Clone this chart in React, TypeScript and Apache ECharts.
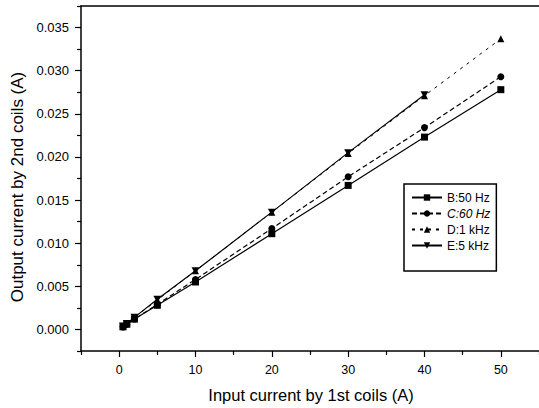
import React, { useEffect, useRef } from "react";
import * as echarts from "echarts";

const xValues = [0.5, 1, 2, 5, 10, 20, 30, 40, 50];
const seriesB = [0.0003, 0.0006, 0.0012, 0.0028, 0.0055, 0.0111, 0.0167, 0.0223, 0.0278];
const seriesC = [0.0003, 0.0006, 0.0012, 0.0029, 0.0058, 0.0117, 0.0177, 0.0234, 0.0293];
const seriesD = [0.0004, 0.0007, 0.0014, 0.0034, 0.0068, 0.0136, 0.0204, 0.0271, 0.0337];
const seriesE = [0.0004, 0.0007, 0.0014, 0.0035, 0.0068, 0.0136, 0.0205, 0.0272];

const xMajorTicks = [0, 10, 20, 30, 40, 50];
const xMinorTicks = [-5, 5, 15, 25, 35, 45, 55];
const yMajorTicks = [0, 0.005, 0.01, 0.015, 0.02, 0.025, 0.03, 0.035];
const yMinorTicks = [-0.0025, 0.0025, 0.0075, 0.0125, 0.0175, 0.0225, 0.0275, 0.0325, 0.0375];

const names = ["B:50 Hz", "C:60 Hz", "D:1 kHz", "E:5 kHz"];

const FONT = "Liberation Sans, Arial, sans-serif";

function pairs(ys: number[]) {
  return ys.map((y, i) => [xValues[i], y]);
}

export default function App() {
  const ref = useRef<HTMLDivElement>(null);
  useEffect(() => {
    if (!ref.current) return;
    const chart = echarts.init(ref.current, null, { renderer: "svg" });
    const lineStyle = { color: "#000", width: 1.5 };
    const tickStyle = { color: "#000", width: 1.2 };
    chart.setOption({
      animation: false,
      backgroundColor: "#fff",
      grid: {
        left: 81,
        top: 6,
        right: -3,
        bottom: 57,
      },
      xAxis: [
        {
          type: "value",
          min: -5,
          max: 55,
          axisLine: { show: true, onZero: false, lineStyle },
          splitLine: { show: false },
          axisTick: { show: true, length: 6, customValues: xMajorTicks, lineStyle: tickStyle },
          axisLabel: {
            customValues: xMajorTicks,
            margin: 12,
            color: "#000",
            fontSize: 12.5,
            fontFamily: FONT,
          },
        },
        {
          type: "value",
          position: "bottom",
          min: -5,
          max: 55,
          axisLine: { show: false, onZero: false },
          splitLine: { show: false },
          axisLabel: { show: false },
          axisTick: { show: true, length: 4, customValues: xMinorTicks, lineStyle: tickStyle },
        },
        {
          type: "value",
          position: "top",
          min: -5,
          max: 55,
          axisLine: { show: true, onZero: false, lineStyle },
          splitLine: { show: false },
          axisLabel: { show: false },
          axisTick: { show: false },
        },
      ],
      yAxis: [
        {
          type: "value",
          min: -0.0025,
          max: 0.0375,
          axisLine: { show: true, onZero: false, lineStyle },
          splitLine: { show: false },
          axisTick: { show: true, length: 6, customValues: yMajorTicks, lineStyle: tickStyle },
          axisLabel: {
            customValues: yMajorTicks,
            margin: 12,
            color: "#000",
            fontSize: 13,
            fontFamily: FONT,
            formatter: (v: number) => v.toFixed(3),
          },
        },
        {
          type: "value",
          position: "left",
          min: -0.0025,
          max: 0.0375,
          axisLine: { show: false, onZero: false },
          splitLine: { show: false },
          axisLabel: { show: false },
          axisTick: { show: true, length: 4, customValues: yMinorTicks, lineStyle: tickStyle },
        },
      ],
      legend: {
        orient: "vertical",
        left: 404,
        top: 184,
        padding: [7, 6, 19, 7],
        itemGap: 3,
        itemWidth: 30,
        itemHeight: 8,
        borderColor: "#000",
        borderWidth: 1.5,
        backgroundColor: "#fff",
        data: names,
        textStyle: {
          color: "#000",
          fontSize: 12,
          lineHeight: 13,
          fontFamily: FONT,
          rich: { i: { fontStyle: "italic", fontSize: 12, fontFamily: FONT, color: "#000" } },
        },
        formatter: (name: string) => (name === "C:60 Hz" ? "{i|" + name + "}" : name),
      },
      graphic: [
        {
          type: "text",
          x: 311,
          y: 395,
          style: {
            text: "Input current by 1st coils (A)",
            fontSize: 16.5,
            fontFamily: FONT,
            fill: "#000",
            textAlign: "center",
            textVerticalAlign: "middle",
          },
        },
        {
          type: "text",
          x: 17,
          y: 187,
          rotation: Math.PI / 2,
          style: {
            text: "Output current by 2nd coils (A)",
            fontSize: 17,
            fontFamily: FONT,
            fill: "#000",
            textAlign: "center",
            textVerticalAlign: "middle",
          },
        },
      ],
      series: [
        {
          name: names[0],
          type: "line",
          data: pairs(seriesB),
          symbol: "rect",
          symbolSize: 7,
          lineStyle: { color: "#000", width: 1.2, type: "solid" },
          itemStyle: { color: "#000" },
        },
        {
          name: names[1],
          type: "line",
          data: pairs(seriesC),
          symbol: "circle",
          symbolSize: 7,
          lineStyle: { color: "#000", width: 1.2, type: [5, 3] },
          itemStyle: { color: "#000" },
        },
        {
          name: names[2],
          type: "line",
          data: pairs(seriesD),
          symbol: "triangle",
          symbolSize: 7,
          lineStyle: { color: "#000", width: 1, type: [3, 5] },
          itemStyle: { color: "#000" },
        },
        {
          name: names[3],
          type: "line",
          data: pairs(seriesE),
          symbol: "path://M0,0 L10,0 L5,9 Z",
          symbolSize: [8, 7],
          lineStyle: { color: "#000", width: 1.2, type: "solid" },
          itemStyle: { color: "#000" },
        },
      ],
    });
    return () => chart.dispose();
  }, []);
  return (
    <div
      ref={ref}
      style={{ position: "fixed", left: 0, top: 0, width: 539, height: 408 }}
    />
  );
}
